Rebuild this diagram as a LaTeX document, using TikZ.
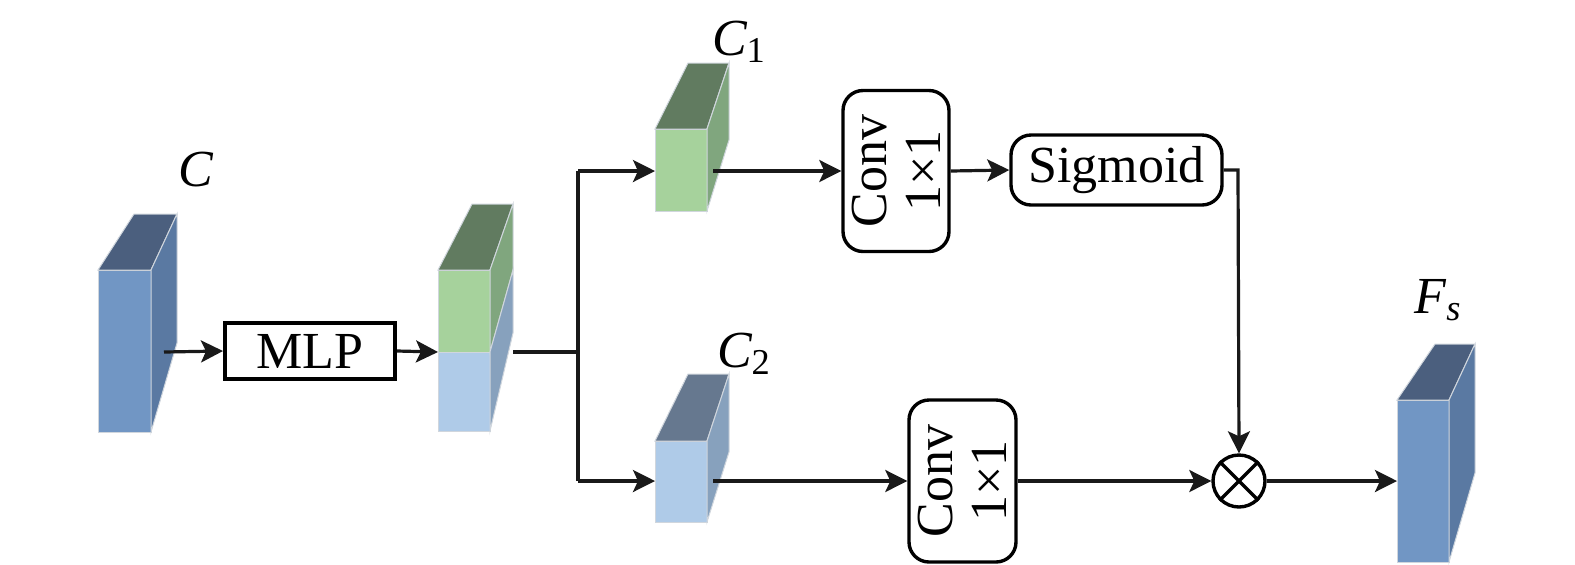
\documentclass[tikz,border=0pt]{standalone}
\usepackage{fontspec}
\setmainfont{LiberationSerif}[Extension=.ttf, UprightFont=*-Regular, ItalicFont=*-Italic, BoldFont=*-Bold, BoldItalicFont=*-BoldItalic]
\usetikzlibrary{arrows.meta}
\definecolor{blueF}{HTML}{7196C4}
\definecolor{blueT}{HTML}{4B5F7E}
\definecolor{blueS}{HTML}{5A79A2}
\definecolor{lbF}{HTML}{AFCBE8}
\definecolor{lbS}{HTML}{87A1BD}
\definecolor{lbT}{HTML}{66788F}
\definecolor{grF}{HTML}{A6D29C}
\definecolor{grT}{HTML}{617B60}
\definecolor{grS}{HTML}{80A67E}
\definecolor{edgec}{HTML}{D0D6DD}
\tikzset{
  face/.style={draw=edgec, line width=0.5pt},
  conn/.style={line width=1.6pt, draw=black!90},
  arr/.style={conn, -{Stealth[length=11pt,width=11pt,inset=2.5pt]}},
  sqbox/.style={draw, line width=2pt, minimum width=170*0.5pt, minimum height=56*0.5pt, inner sep=0pt},
  rbox/.style={draw, line width=1.7pt, rounded corners=10pt, inner sep=0pt},
  txt/.style={font=\fontsize{26}{27}\selectfont, align=center, inner sep=0pt},
}
\begin{document}
\begin{tikzpicture}[x=0.5pt, y=-0.5pt]
\useasboundingbox (0,0) rectangle (1575,564);

% ---- left cuboid C ----
\fill[blueF, face] (98,270) rectangle (151,432);
\fill[blueT, face] (98,270) -- (134,214) -- (177,214) -- (151,270) -- cycle;
\fill[blueS, face] (151,270) -- (177,214) -- (177,343) -- (151,432) -- cycle;
\coordinate (aout) at (164,352);
\node[txt] (lC) at (196,170) {\itshape C};

% ---- MLP ----
\node[sqbox, txt] (mlp) at (310,351) {MLP};

% ---- middle cuboid ----
\fill[grF, face] (438,270) rectangle (490,352);
\fill[lbF, face] (438,352) rectangle (490,431);
\fill[grT, face] (438,270) -- (472,204) -- (513,204) -- (490,270) -- cycle;
\fill[grS, face] (490,270) -- (513,204) -- (513,270) -- (490,352) -- cycle;
\fill[lbS, face] (490,352) -- (513,270) -- (513,333) -- (490,431) -- cycle;
\coordinate (min) at (438,352);
\coordinate (mout) at (513,352);
\coordinate (split) at (578,352);
\coordinate (splitT) at (578,171);
\coordinate (splitB) at (578,481);

% ---- C1 cuboid ----
\fill[grF, face] (655,129) rectangle (707,211);
\fill[grT, face] (655,129) -- (688,63) -- (729,63) -- (707,129) -- cycle;
\fill[grS, face] (707,129) -- (729,63) -- (729,140) -- (707,211) -- cycle;
\coordinate (c1in) at (655,171);
\coordinate (c1out) at (713,171);
\node[txt] (lC1) at (739,42) {{\itshape C}\textsubscript{1}};

% ---- C2 cuboid ----
\fill[lbF, face] (655,441) rectangle (707,522);
\fill[lbT, face] (655,441) -- (688,374) -- (729,374) -- (707,441) -- cycle;
\fill[lbS, face] (707,441) -- (729,374) -- (729,452) -- (707,522) -- cycle;
\coordinate (c2in) at (655,481);
\coordinate (c2out) at (713,481);
\node[txt] (lC2) at (744,354) {{\itshape C}\textsubscript{2}};

% ---- Conv boxes ----
\node[rbox, minimum width=106*0.5pt, minimum height=161*0.5pt] (conv1) at (896,171) {};
\node[txt, rotate=90] (conv1t) at (conv1.center) {Conv\\1×1};
\node[rbox, minimum width=107*0.5pt, minimum height=162*0.5pt] (conv2) at (962.5,481) {};
\node[txt, rotate=90] (conv2t) at (conv2.center) {Conv\\1×1};

% ---- Sigmoid ----
\node[rbox, txt, minimum width=211*0.5pt, minimum height=70*0.5pt] (sig) at (1116.5,170) {Sigmoid};
\coordinate (sigc) at (1238,170);

% ---- multiply ----
\node[draw, circle, line width=1.7pt, minimum size=52*0.5pt, inner sep=0pt] (mul) at (1239,481) {};
\draw[line width=1.7pt] (mul.north west) -- (mul.south east) (mul.north east) -- (mul.south west);

% ---- F_s cuboid ----
\fill[blueF, face] (1397,400) rectangle (1449,562);
\fill[blueT, face] (1397,400) -- (1435,344) -- (1475,344) -- (1449,400) -- cycle;
\fill[blueS, face] (1449,400) -- (1475,344) -- (1475,473) -- (1449,562) -- cycle;
\coordinate (fin) at (1397,481);
\node[txt] (lF) at (1438,300) {{\itshape F}\textsubscript{\itshape s}};

% ---- connectors ----
\draw[arr] (aout) -- (mlp.west);
\draw[arr] (mlp.east) -- (min);
\draw[conn] (mout) -- (split);
\draw[conn] (splitT) -- (splitB);
\draw[arr] (splitT) -- (c1in);
\draw[arr] (splitB) -- (c2in);
\draw[arr] (c1out) -- (conv1.west);
\draw[arr] (conv1.east) -- (sig.west);
\draw[arr] (sig.east) -- (sigc) -- (mul.north);
\draw[arr] (c2out) -- (conv2.west);
\draw[arr] (conv2.east) -- (mul.west);
\draw[arr] (mul.east) -- (fin);
\end{tikzpicture}
\end{document}
